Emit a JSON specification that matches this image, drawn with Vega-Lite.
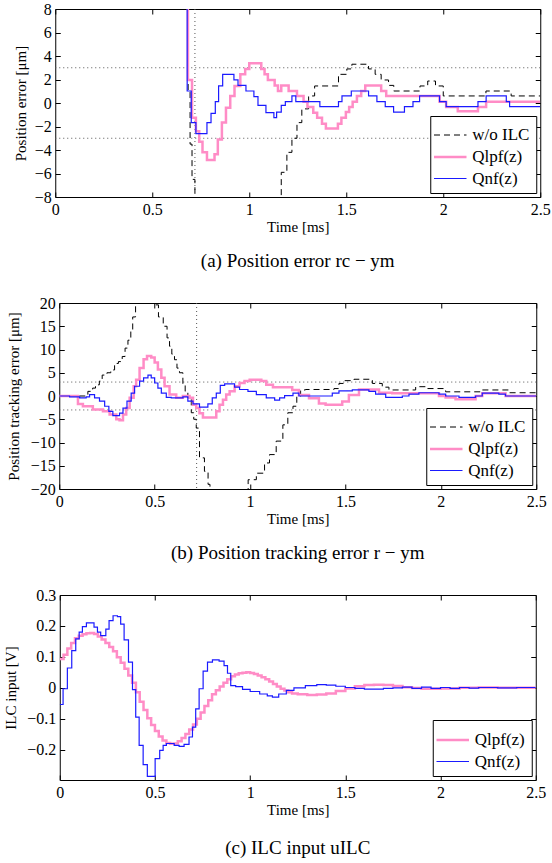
{
"$schema":"https://vega.github.io/schema/vega-lite/v6.json",
"padding":{"left":3,"top":0,"right":0,"bottom":0},
"spacing":22,
"center":true,
"resolve":{"scale":{"color":"independent","stroke":"independent","strokeDash":"independent","strokeWidth":"independent"},"legend":{"color":"independent","stroke":"independent","strokeDash":"independent","strokeWidth":"independent"}},
"config":{
"font":"Liberation Serif",
"view":{"stroke":"black","strokeWidth":1},
"axis":{"grid":false,"domain":false,"tickSize":-5,"tickColor":"black","tickWidth":1,"labelFont":"Liberation Serif","labelFontSize":16,"labelColor":"black","labelPadding":9,"labelOverlap":false,"labelFlush":false,"titleFont":"Liberation Serif","titleFontSize":15,"titleFontWeight":"normal","titleColor":"black","titlePadding":6},
"axisX":{"titlePadding":2},
"legend":{"orient":"bottom-right","offset":4,"strokeColor":"black","fillColor":"white","padding":6,"symbolType":"M-1.3,0H1.3","symbolSize":625,"labelFont":"Liberation Serif","labelFontSize":17,"labelColor":"black","rowPadding":0,"labelOffset":8},
"title":{"font":"Liberation Serif","fontSize":19,"fontWeight":"normal","color":"black","orient":"bottom","offset":18}
},
"datasets":{
"a":[
{"s":"A","t":0.6,"v":30},{"s":"A","t":0.685,"v":1},{"s":"A","t":0.695,"v":-3.5},{"s":"A","t":0.705,"v":-6.5},{"s":"A","t":0.72,"v":-12},{"s":"A","t":0.75,"v":-20},{"s":"A","t":1.13,"v":-12},{"s":"A","t":1.15,"v":-9},{"s":"A","t":1.165,"v":-5.9},{"s":"A","t":1.194,"v":-4.2},{"s":"A","t":1.22,"v":-3},{"s":"A","t":1.246,"v":-1.67},{"s":"A","t":1.271,"v":-0.5},{"s":"A","t":1.306,"v":0.6},{"s":"A","t":1.337,"v":1.45},{"s":"A","t":1.46,"v":2.44},{"s":"A","t":1.503,"v":2.9},{"s":"A","t":1.529,"v":3.3},{"s":"A","t":1.615,"v":2.9},{"s":"A","t":1.649,"v":2.44},{"s":"A","t":1.68,"v":1.96},{"s":"A","t":1.718,"v":1.5},{"s":"A","t":1.745,"v":1.02},{"s":"A","t":1.88,"v":1.45},{"s":"A","t":1.92,"v":1.87},{"s":"A","t":1.96,"v":1.45},{"s":"A","t":2.0,"v":0.6},{"s":"A","t":2.22,"v":1.02},{"s":"A","t":2.35,"v":0.6},{"s":"A","t":2.5,"v":0.6},
{"s":"B","t":0.6,"v":30},{"s":"B","t":0.684,"v":1.96},{"s":"B","t":0.705,"v":-1.25},{"s":"B","t":0.725,"v":-2.4},{"s":"B","t":0.742,"v":-3.3},{"s":"B","t":0.759,"v":-4.2},{"s":"B","t":0.782,"v":-4.86},{"s":"B","t":0.821,"v":-4.37},{"s":"B","t":0.838,"v":-3.1},{"s":"B","t":0.859,"v":-1.67},{"s":"B","t":0.88,"v":-0.4},{"s":"B","t":0.902,"v":0.6},{"s":"B","t":0.924,"v":1.45},{"s":"B","t":0.954,"v":2.44},{"s":"B","t":0.979,"v":2.9},{"s":"B","t":1.0,"v":3.38},{"s":"B","t":1.062,"v":2.9},{"s":"B","t":1.079,"v":2.44},{"s":"B","t":1.096,"v":1.96},{"s":"B","t":1.131,"v":1.5},{"s":"B","t":1.148,"v":1.02},{"s":"B","t":1.165,"v":1.5},{"s":"B","t":1.203,"v":1.02},{"s":"B","t":1.246,"v":0.6},{"s":"B","t":1.28,"v":0.11},{"s":"B","t":1.3,"v":-0.34},{"s":"B","t":1.33,"v":-0.82},{"s":"B","t":1.35,"v":-1.25},{"s":"B","t":1.375,"v":-1.76},{"s":"B","t":1.395,"v":-2.18},{"s":"B","t":1.457,"v":-1.76},{"s":"B","t":1.475,"v":-1.25},{"s":"B","t":1.498,"v":-0.77},{"s":"B","t":1.515,"v":-0.34},{"s":"B","t":1.533,"v":0.11},{"s":"B","t":1.555,"v":0.6},{"s":"B","t":1.577,"v":1.02},{"s":"B","t":1.598,"v":1.5},{"s":"B","t":1.68,"v":1.02},{"s":"B","t":1.706,"v":0.6},{"s":"B","t":1.981,"v":0.11},{"s":"B","t":2.015,"v":-0.34},{"s":"B","t":2.075,"v":-0.7},{"s":"B","t":2.179,"v":-0.34},{"s":"B","t":2.221,"v":0.11},{"s":"B","t":2.5,"v":0.11},
{"s":"C","t":0.6,"v":30},{"s":"C","t":0.68,"v":1.02},{"s":"C","t":0.701,"v":-1.67},{"s":"C","t":0.725,"v":-2.61},{"s":"C","t":0.782,"v":-1.67},{"s":"C","t":0.803,"v":-0.88},{"s":"C","t":0.825,"v":0.11},{"s":"C","t":0.842,"v":1.45},{"s":"C","t":0.863,"v":2.44},{"s":"C","t":0.921,"v":1.96},{"s":"C","t":0.942,"v":1.5},{"s":"C","t":0.983,"v":1.02},{"s":"C","t":1.024,"v":0.54},{"s":"C","t":1.045,"v":-0.2},{"s":"C","t":1.086,"v":-0.82},{"s":"C","t":1.127,"v":-1.25},{"s":"C","t":1.141,"v":-0.77},{"s":"C","t":1.165,"v":-0.2},{"s":"C","t":1.186,"v":0.11},{"s":"C","t":1.22,"v":0.6},{"s":"C","t":1.24,"v":0.11},{"s":"C","t":1.364,"v":-0.31},{"s":"C","t":1.46,"v":0.11},{"s":"C","t":1.478,"v":0.6},{"s":"C","t":1.526,"v":1.02},{"s":"C","t":1.615,"v":0.6},{"s":"C","t":1.658,"v":0.11},{"s":"C","t":1.701,"v":-0.31},{"s":"C","t":1.744,"v":-0.77},{"s":"C","t":1.8,"v":-0.31},{"s":"C","t":1.844,"v":0.11},{"s":"C","t":1.878,"v":0.6},{"s":"C","t":1.981,"v":0.11},{"s":"C","t":2.015,"v":-0.31},{"s":"C","t":2.179,"v":0.11},{"s":"C","t":2.221,"v":0.6},{"s":"C","t":2.325,"v":0.11},{"s":"C","t":2.342,"v":-0.31},{"s":"C","t":2.5,"v":-0.31}
],
"b":[
{"s":"A","t":0,"v":0},{"s":"A","t":0.15,"v":1},{"s":"A","t":0.175,"v":1.7},{"s":"A","t":0.19,"v":2.4},{"s":"A","t":0.21,"v":3.2},{"s":"A","t":0.225,"v":4.5},{"s":"A","t":0.25,"v":5},{"s":"A","t":0.27,"v":5.6},{"s":"A","t":0.29,"v":7},{"s":"A","t":0.31,"v":7.4},{"s":"A","t":0.33,"v":8.5},{"s":"A","t":0.345,"v":10.3},{"s":"A","t":0.36,"v":12},{"s":"A","t":0.375,"v":14},{"s":"A","t":0.385,"v":17},{"s":"A","t":0.4,"v":22},{"s":"A","t":0.49,"v":19.6},{"s":"A","t":0.52,"v":17},{"s":"A","t":0.545,"v":15},{"s":"A","t":0.565,"v":12.5},{"s":"A","t":0.578,"v":10.7},{"s":"A","t":0.59,"v":9},{"s":"A","t":0.604,"v":7.8},{"s":"A","t":0.617,"v":6},{"s":"A","t":0.63,"v":5},{"s":"A","t":0.648,"v":2.4},{"s":"A","t":0.66,"v":1},{"s":"A","t":0.674,"v":-0.4},{"s":"A","t":0.692,"v":-3.6},{"s":"A","t":0.705,"v":-5},{"s":"A","t":0.718,"v":-6.9},{"s":"A","t":0.735,"v":-13.3},{"s":"A","t":0.761,"v":-16.2},{"s":"A","t":0.78,"v":-19},{"s":"A","t":0.79,"v":-22},{"s":"A","t":0.99,"v":-18},{"s":"A","t":1.033,"v":-16.6},{"s":"A","t":1.076,"v":-14.4},{"s":"A","t":1.102,"v":-12.6},{"s":"A","t":1.137,"v":-9.7},{"s":"A","t":1.172,"v":-6.2},{"s":"A","t":1.198,"v":-3.6},{"s":"A","t":1.225,"v":-2.2},{"s":"A","t":1.245,"v":-0.1},{"s":"A","t":1.265,"v":1.3},{"s":"A","t":1.29,"v":1.4},{"s":"A","t":1.44,"v":1.6},{"s":"A","t":1.466,"v":2.7},{"s":"A","t":1.49,"v":3.3},{"s":"A","t":1.545,"v":3.6},{"s":"A","t":1.641,"v":2.7},{"s":"A","t":1.693,"v":1.9},{"s":"A","t":1.728,"v":1.3},{"s":"A","t":1.868,"v":2},{"s":"A","t":1.929,"v":1.6},{"s":"A","t":2.025,"v":0.9},{"s":"A","t":2.217,"v":1.3},{"s":"A","t":2.356,"v":0.7},{"s":"A","t":2.5,"v":0.7},
{"s":"B","t":0,"v":0},{"s":"B","t":0.098,"v":-1.7},{"s":"B","t":0.124,"v":-2.2},{"s":"B","t":0.176,"v":-2.9},{"s":"B","t":0.229,"v":-3.3},{"s":"B","t":0.264,"v":-4},{"s":"B","t":0.299,"v":-5},{"s":"B","t":0.316,"v":-5.2},{"s":"B","t":0.334,"v":-4},{"s":"B","t":0.351,"v":-2.6},{"s":"B","t":0.369,"v":-0.4},{"s":"B","t":0.39,"v":2.1},{"s":"B","t":0.403,"v":3.5},{"s":"B","t":0.421,"v":6},{"s":"B","t":0.442,"v":7.9},{"s":"B","t":0.46,"v":8.6},{"s":"B","t":0.482,"v":8.3},{"s":"B","t":0.5,"v":7.2},{"s":"B","t":0.517,"v":5.7},{"s":"B","t":0.535,"v":3.9},{"s":"B","t":0.552,"v":2.1},{"s":"B","t":0.578,"v":0.3},{"s":"B","t":0.613,"v":-0.4},{"s":"B","t":0.648,"v":0},{"s":"B","t":0.683,"v":-0.4},{"s":"B","t":0.701,"v":-1.9},{"s":"B","t":0.718,"v":-2.6},{"s":"B","t":0.735,"v":-3.7},{"s":"B","t":0.753,"v":-4.6},{"s":"B","t":0.823,"v":-3.3},{"s":"B","t":0.84,"v":-1.9},{"s":"B","t":0.858,"v":-0.8},{"s":"B","t":0.875,"v":0.3},{"s":"B","t":0.893,"v":1},{"s":"B","t":0.919,"v":2.1},{"s":"B","t":0.945,"v":2.8},{"s":"B","t":0.971,"v":3.2},{"s":"B","t":0.998,"v":3.5},{"s":"B","t":1.059,"v":3.2},{"s":"B","t":1.085,"v":2.4},{"s":"B","t":1.12,"v":1.9},{"s":"B","t":1.221,"v":1.3},{"s":"B","t":1.256,"v":0.2},{"s":"B","t":1.309,"v":-0.5},{"s":"B","t":1.361,"v":-1.6},{"s":"B","t":1.396,"v":-1.9},{"s":"B","t":1.483,"v":-1.2},{"s":"B","t":1.518,"v":0.2},{"s":"B","t":1.571,"v":1.4},{"s":"B","t":1.676,"v":0.7},{"s":"B","t":1.745,"v":0.6},{"s":"B","t":1.99,"v":0},{"s":"B","t":2.025,"v":-0.3},{"s":"B","t":2.077,"v":-0.7},{"s":"B","t":2.182,"v":0},{"s":"B","t":2.217,"v":0.6},{"s":"B","t":2.339,"v":0},{"s":"B","t":2.5,"v":0},
{"s":"C","t":0,"v":0},{"s":"C","t":0.054,"v":-0.2},{"s":"C","t":0.107,"v":-0.4},{"s":"C","t":0.141,"v":-0.2},{"s":"C","t":0.159,"v":0.3},{"s":"C","t":0.185,"v":-0.4},{"s":"C","t":0.211,"v":-1.1},{"s":"C","t":0.238,"v":-2.2},{"s":"C","t":0.26,"v":-3.3},{"s":"C","t":0.281,"v":-4.2},{"s":"C","t":0.316,"v":-3.7},{"s":"C","t":0.334,"v":-2.6},{"s":"C","t":0.355,"v":-1.1},{"s":"C","t":0.377,"v":0.6},{"s":"C","t":0.395,"v":2.1},{"s":"C","t":0.421,"v":3.2},{"s":"C","t":0.442,"v":3.9},{"s":"C","t":0.465,"v":4.5},{"s":"C","t":0.482,"v":3.9},{"s":"C","t":0.5,"v":2.8},{"s":"C","t":0.517,"v":1.7},{"s":"C","t":0.535,"v":0.6},{"s":"C","t":0.561,"v":-0.3},{"s":"C","t":0.587,"v":-0.4},{"s":"C","t":0.648,"v":-0.2},{"s":"C","t":0.674,"v":-1.1},{"s":"C","t":0.701,"v":-1.7},{"s":"C","t":0.735,"v":-2.4},{"s":"C","t":0.779,"v":-1.7},{"s":"C","t":0.802,"v":-0.4},{"s":"C","t":0.823,"v":0.6},{"s":"C","t":0.844,"v":2.3},{"s":"C","t":0.867,"v":2.6},{"s":"C","t":0.919,"v":1.9},{"s":"C","t":0.945,"v":1.4},{"s":"C","t":0.989,"v":1},{"s":"C","t":1.033,"v":0.3},{"s":"C","t":1.085,"v":-0.4},{"s":"C","t":1.129,"v":-0.9},{"s":"C","t":1.155,"v":-0.4},{"s":"C","t":1.181,"v":0.1},{"s":"C","t":1.225,"v":0.6},{"s":"C","t":1.256,"v":0},{"s":"C","t":1.431,"v":0.6},{"s":"C","t":1.466,"v":1.1},{"s":"C","t":1.536,"v":1.3},{"s":"C","t":1.623,"v":1},{"s":"C","t":1.658,"v":0.4},{"s":"C","t":1.711,"v":-0.3},{"s":"C","t":1.798,"v":0},{"s":"C","t":1.833,"v":0.4},{"s":"C","t":1.885,"v":0.7},{"s":"C","t":1.99,"v":0.4},{"s":"C","t":2.025,"v":0},{"s":"C","t":2.095,"v":-0.3},{"s":"C","t":2.182,"v":0},{"s":"C","t":2.217,"v":0.6},{"s":"C","t":2.304,"v":0.4},{"s":"C","t":2.339,"v":0},{"s":"C","t":2.5,"v":0}
],
"c":[
{"s":"B","t":0,"v":0.093},{"s":"B","t":0.02,"v":0.107},{"s":"B","t":0.04,"v":0.127},{"s":"B","t":0.06,"v":0.145},{"s":"B","t":0.08,"v":0.16},{"s":"B","t":0.1,"v":0.168},{"s":"B","t":0.12,"v":0.173},{"s":"B","t":0.14,"v":0.176},{"s":"B","t":0.16,"v":0.177},{"s":"B","t":0.18,"v":0.174},{"s":"B","t":0.2,"v":0.166},{"s":"B","t":0.22,"v":0.156},{"s":"B","t":0.24,"v":0.145},{"s":"B","t":0.26,"v":0.132},{"s":"B","t":0.28,"v":0.118},{"s":"B","t":0.3,"v":0.099},{"s":"B","t":0.32,"v":0.081},{"s":"B","t":0.34,"v":0.062},{"s":"B","t":0.36,"v":0.04},{"s":"B","t":0.38,"v":0.016},{"s":"B","t":0.4,"v":-0.014},{"s":"B","t":0.42,"v":-0.045},{"s":"B","t":0.44,"v":-0.072},{"s":"B","t":0.46,"v":-0.098},{"s":"B","t":0.48,"v":-0.12},{"s":"B","t":0.5,"v":-0.14},{"s":"B","t":0.52,"v":-0.157},{"s":"B","t":0.54,"v":-0.17},{"s":"B","t":0.56,"v":-0.178},{"s":"B","t":0.58,"v":-0.181},{"s":"B","t":0.6,"v":-0.18},{"s":"B","t":0.62,"v":-0.173},{"s":"B","t":0.64,"v":-0.162},{"s":"B","t":0.66,"v":-0.149},{"s":"B","t":0.68,"v":-0.135},{"s":"B","t":0.7,"v":-0.119},{"s":"B","t":0.72,"v":-0.1},{"s":"B","t":0.74,"v":-0.08},{"s":"B","t":0.76,"v":-0.059},{"s":"B","t":0.78,"v":-0.04},{"s":"B","t":0.8,"v":-0.021},{"s":"B","t":0.82,"v":-0.008},{"s":"B","t":0.84,"v":0.004},{"s":"B","t":0.86,"v":0.016},{"s":"B","t":0.88,"v":0.028},{"s":"B","t":0.9,"v":0.037},{"s":"B","t":0.92,"v":0.043},{"s":"B","t":0.94,"v":0.047},{"s":"B","t":0.96,"v":0.049},{"s":"B","t":0.98,"v":0.05},{"s":"B","t":1.0,"v":0.048},{"s":"B","t":1.02,"v":0.045},{"s":"B","t":1.04,"v":0.04},{"s":"B","t":1.06,"v":0.034},{"s":"B","t":1.08,"v":0.028},{"s":"B","t":1.1,"v":0.02},{"s":"B","t":1.12,"v":0.012},{"s":"B","t":1.14,"v":0.004},{"s":"B","t":1.16,"v":-0.003},{"s":"B","t":1.18,"v":-0.009},{"s":"B","t":1.2,"v":-0.014},{"s":"B","t":1.22,"v":-0.018},{"s":"B","t":1.25,"v":-0.021},{"s":"B","t":1.3,"v":-0.023},{"s":"B","t":1.35,"v":-0.022},{"s":"B","t":1.4,"v":-0.018},{"s":"B","t":1.45,"v":-0.01},{"s":"B","t":1.5,"v":-0.002},{"s":"B","t":1.55,"v":0.005},{"s":"B","t":1.6,"v":0.009},{"s":"B","t":1.65,"v":0.01},{"s":"B","t":1.7,"v":0.009},{"s":"B","t":1.75,"v":0.006},{"s":"B","t":1.8,"v":0.002},{"s":"B","t":1.85,"v":-0.001},{"s":"B","t":1.9,"v":-0.003},{"s":"B","t":1.95,"v":-0.003},{"s":"B","t":2.0,"v":-0.002},{"s":"B","t":2.1,"v":0},{"s":"B","t":2.2,"v":0.001},{"s":"B","t":2.3,"v":0},{"s":"B","t":2.5,"v":0},
{"s":"C","t":0,"v":-0.054},{"s":"C","t":0.0175,"v":-0.003},{"s":"C","t":0.04,"v":0.064},{"s":"C","t":0.063,"v":0.12},{"s":"C","t":0.084,"v":0.158},{"s":"C","t":0.102,"v":0.18},{"s":"C","t":0.119,"v":0.198},{"s":"C","t":0.14,"v":0.21},{"s":"C","t":0.18,"v":0.196},{"s":"C","t":0.198,"v":0.18},{"s":"C","t":0.215,"v":0.169},{"s":"C","t":0.242,"v":0.19},{"s":"C","t":0.259,"v":0.217},{"s":"C","t":0.28,"v":0.233},{"s":"C","t":0.303,"v":0.23},{"s":"C","t":0.32,"v":0.206},{"s":"C","t":0.338,"v":0.155},{"s":"C","t":0.361,"v":0.083},{"s":"C","t":0.382,"v":-0.006},{"s":"C","t":0.399,"v":-0.095},{"s":"C","t":0.417,"v":-0.186},{"s":"C","t":0.438,"v":-0.248},{"s":"C","t":0.46,"v":-0.286},{"s":"C","t":0.501,"v":-0.229},{"s":"C","t":0.525,"v":-0.202},{"s":"C","t":0.543,"v":-0.186},{"s":"C","t":0.56,"v":-0.18},{"s":"C","t":0.601,"v":-0.186},{"s":"C","t":0.627,"v":-0.189},{"s":"C","t":0.653,"v":-0.183},{"s":"C","t":0.679,"v":-0.159},{"s":"C","t":0.697,"v":-0.127},{"s":"C","t":0.714,"v":-0.068},{"s":"C","t":0.732,"v":-0.003},{"s":"C","t":0.753,"v":0.054},{"s":"C","t":0.776,"v":0.083},{"s":"C","t":0.802,"v":0.09},{"s":"C","t":0.837,"v":0.086},{"s":"C","t":0.863,"v":0.072},{"s":"C","t":0.881,"v":0.047},{"s":"C","t":0.898,"v":0.007},{"s":"C","t":0.924,"v":0.004},{"s":"C","t":0.96,"v":-0.005},{"s":"C","t":1.0,"v":-0.012},{"s":"C","t":1.05,"v":-0.02},{"s":"C","t":1.09,"v":-0.026},{"s":"C","t":1.117,"v":-0.03},{"s":"C","t":1.15,"v":-0.02},{"s":"C","t":1.19,"v":-0.008},{"s":"C","t":1.23,"v":0},{"s":"C","t":1.29,"v":0.007},{"s":"C","t":1.35,"v":0.01},{"s":"C","t":1.4,"v":0.009},{"s":"C","t":1.45,"v":0.005},{"s":"C","t":1.5,"v":0.001},{"s":"C","t":1.55,"v":-0.002},{"s":"C","t":1.6,"v":-0.004},{"s":"C","t":1.65,"v":-0.004},{"s":"C","t":1.7,"v":-0.002},{"s":"C","t":1.75,"v":0},{"s":"C","t":1.8,"v":0.002},{"s":"C","t":1.85,"v":-0.002},{"s":"C","t":1.9,"v":0.002},{"s":"C","t":1.95,"v":-0.002},{"s":"C","t":2.0,"v":0.001},{"s":"C","t":2.05,"v":-0.002},{"s":"C","t":2.1,"v":0.001},{"s":"C","t":2.15,"v":-0.001},{"s":"C","t":2.2,"v":0.001},{"s":"C","t":2.3,"v":0},{"s":"C","t":2.4,"v":0.001},{"s":"C","t":2.5,"v":0}
]
},
"vconcat":[
{
"width":485,"height":188,
"title":{"text":"(a) Position error rc − ym"},
"layer":[
{"data":{"values":[{}]},"mark":{"type":"rule","strokeDash":[1,3],"color":"#555","strokeWidth":1},"encoding":{"y":{"datum":3,"type":"quantitative","axis":null}}},
{"data":{"values":[{}]},"mark":{"type":"rule","strokeDash":[1,3],"color":"#555","strokeWidth":1},"encoding":{"y":{"datum":-3,"type":"quantitative","axis":null}}},
{"data":{"values":[{}]},"mark":{"type":"rule","strokeDash":[1,3],"color":"#555","strokeWidth":1},"encoding":{"x":{"datum":0.72,"type":"quantitative","axis":null}}},
{"data":{"name":"a"},"mark":{"type":"line","interpolate":"step-after","clip":true},
"encoding":{
"x":{"field":"t","type":"quantitative","scale":{"domain":[0,2.5],"nice":false,"zero":false},"axis":{"values":[0,0.5,1,1.5,2,2.5],"format":"~g","title":"Time [ms]"}},
"y":{"field":"v","type":"quantitative","scale":{"domain":[-8,8],"nice":false},"axis":{"values":[-8,-6,-4,-2,0,2,4,6,8],"format":"~g","title":"Position error [μm]","titlePadding":6}},
"color":{"field":"s","type":"nominal","scale":{"domain":["A","B","C"],"range":["#000000","#ff8cc6","#1a1aff"]},"legend":{"title":null,"labelExpr":"datum.label=='A'?'w/o ILC':datum.label=='B'?'Qlpf(z)':'Qnf(z)'"}},
"strokeDash":{"field":"s","type":"nominal","scale":{"type":"ordinal","domain":["A","B","C"],"range":[[6,4],[1,0],[1,0]]},"legend":{"title":null,"labelExpr":"datum.label=='A'?'w/o ILC':datum.label=='B'?'Qlpf(z)':'Qnf(z)'"}},
"strokeWidth":{"field":"s","type":"nominal","scale":{"type":"ordinal","domain":["A","B","C"],"range":[1,2.5,1.2]},"legend":{"title":null,"labelExpr":"datum.label=='A'?'w/o ILC':datum.label=='B'?'Qlpf(z)':'Qnf(z)'"}}
}},
{"data":{"values":[{}]},"mark":{"type":"point","opacity":0},"encoding":{
"x":{"datum":0,"type":"quantitative","axis":{"orient":"top","labels":false,"title":null,"values":[0,0.5,1,1.5,2,2.5]}},
"y":{"datum":0,"type":"quantitative","axis":{"orient":"right","labels":false,"title":null,"values":[-8,-6,-4,-2,0,2,4,6,8]}}}}
],
"resolve":{"axis":{"x":"independent","y":"independent"}}
},
{
"width":477,"height":186,
"title":{"text":"(b) Position tracking error r − ym"},
"layer":[
{"data":{"values":[{}]},"mark":{"type":"rule","strokeDash":[1,3],"color":"#555","strokeWidth":1},"encoding":{"y":{"datum":3,"type":"quantitative","axis":null}}},
{"data":{"values":[{}]},"mark":{"type":"rule","strokeDash":[1,3],"color":"#555","strokeWidth":1},"encoding":{"y":{"datum":-3,"type":"quantitative","axis":null}}},
{"data":{"values":[{}]},"mark":{"type":"rule","strokeDash":[1,3],"color":"#555","strokeWidth":1},"encoding":{"x":{"datum":0.72,"type":"quantitative","axis":null}}},
{"data":{"name":"b"},"mark":{"type":"line","interpolate":"step-after","clip":true},
"encoding":{
"x":{"field":"t","type":"quantitative","scale":{"domain":[0,2.5],"nice":false,"zero":false},"axis":{"values":[0,0.5,1,1.5,2,2.5],"format":"~g","title":"Time [ms]"}},
"y":{"field":"v","type":"quantitative","scale":{"domain":[-20,20],"nice":false},"axis":{"values":[-20,-15,-10,-5,0,5,10,15,20],"format":"~g","title":"Position tracking error [μm]","titlePadding":9}},
"color":{"field":"s","type":"nominal","scale":{"domain":["A","B","C"],"range":["#000000","#ff8cc6","#1a1aff"]},"legend":{"title":null,"labelExpr":"datum.label=='A'?'w/o ILC':datum.label=='B'?'Qlpf(z)':'Qnf(z)'"}},
"strokeDash":{"field":"s","type":"nominal","scale":{"type":"ordinal","domain":["A","B","C"],"range":[[6,4],[1,0],[1,0]]},"legend":{"title":null,"labelExpr":"datum.label=='A'?'w/o ILC':datum.label=='B'?'Qlpf(z)':'Qnf(z)'"}},
"strokeWidth":{"field":"s","type":"nominal","scale":{"type":"ordinal","domain":["A","B","C"],"range":[1,2.5,1.2]},"legend":{"title":null,"labelExpr":"datum.label=='A'?'w/o ILC':datum.label=='B'?'Qlpf(z)':'Qnf(z)'"}}
}},
{"data":{"values":[{}]},"mark":{"type":"point","opacity":0},"encoding":{
"x":{"datum":0,"type":"quantitative","axis":{"orient":"top","labels":false,"title":null,"values":[0,0.5,1,1.5,2,2.5]}},
"y":{"datum":0,"type":"quantitative","axis":{"orient":"right","labels":false,"title":null,"values":[-20,-15,-10,-5,0,5,10,15,20]}}}}
],
"resolve":{"axis":{"x":"independent","y":"independent"}}
},
{
"width":476,"height":185,
"title":{"text":"(c) ILC input uILC","offset":22},
"layer":[
{"data":{"name":"c"},"mark":{"type":"line","interpolate":"step-after","clip":true},
"encoding":{
"x":{"field":"t","type":"quantitative","scale":{"domain":[0,2.5],"nice":false,"zero":false},"axis":{"values":[0,0.5,1,1.5,2,2.5],"format":"~g","title":"Time [ms]"}},
"y":{"field":"v","type":"quantitative","scale":{"domain":[-0.298,0.3],"nice":false,"zero":false},"axis":{"values":[-0.2,-0.1,0,0.1,0.2,0.3],"format":"~g","title":"ILC input [V]","titlePadding":8}},
"stroke":{"field":"s","type":"nominal","scale":{"domain":["B","C"],"range":["#ff8cc6","#1a1aff"]},"legend":{"title":null,"labelExpr":"datum.label=='B'?'Qlpf(z)':'Qnf(z)'"}},
"strokeWidth":{"field":"s","type":"nominal","scale":{"type":"ordinal","domain":["B","C"],"range":[2.5,1.2]},"legend":{"title":null,"labelExpr":"datum.label=='B'?'Qlpf(z)':'Qnf(z)'"}}
}},
{"data":{"values":[{}]},"mark":{"type":"point","opacity":0},"encoding":{
"x":{"datum":0,"type":"quantitative","axis":{"orient":"top","labels":false,"title":null,"values":[0,0.5,1,1.5,2,2.5]}},
"y":{"datum":0,"type":"quantitative","axis":{"orient":"right","labels":false,"title":null,"values":[-0.2,-0.1,0,0.1,0.2,0.3]}}}}
],
"resolve":{"axis":{"x":"independent","y":"independent"}}
}
]
}
